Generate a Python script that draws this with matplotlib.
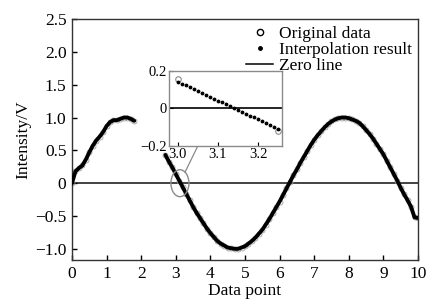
import numpy as np
import matplotlib
matplotlib.use("Agg")
import matplotlib.pyplot as plt
from matplotlib.lines import Line2D
from matplotlib.patches import Ellipse

plt.rcParams['font.family'] = ['Liberation Serif', 'DejaVu Serif']
plt.rcParams['font.size'] = 12.5

# first measured segment (x = 0.0 ... 1.8)
x1 = np.round(np.arange(0.0, 1.81, 0.1), 2)
y1 = [0.00, 0.18, 0.23, 0.27, 0.36, 0.47, 0.57, 0.65, 0.71, 0.78,
      0.87, 0.93, 0.96, 0.96, 0.98, 1.00, 1.00, 0.98, 0.95]

# second measured segment (x = 2.7 ... 10.0)
x2 = np.round(np.arange(2.7, 10.01, 0.1), 2)
y2 = [0.43, 0.33, 0.24, 0.14, 0.04, -0.06, -0.16, -0.26, -0.36, -0.45,
      -0.53, -0.61, -0.69, -0.76, -0.82, -0.88, -0.92, -0.95, -0.98, -0.99,
      -1.00, -1.00, -0.98, -0.96, -0.92, -0.88, -0.83, -0.77, -0.71, -0.63,
      -0.55, -0.46, -0.37, -0.28, -0.18, -0.08, 0.02, 0.12, 0.21, 0.31,
      0.40, 0.49, 0.58, 0.66, 0.73, 0.79, 0.85, 0.90, 0.94, 0.97,
      0.99, 1.00, 1.00, 0.99, 0.97, 0.95, 0.92, 0.87, 0.81, 0.75,
      0.68, 0.60, 0.52, 0.44, 0.34, 0.24, 0.14, 0.04, -0.07, -0.17,
      -0.26, -0.36, -0.52, -0.53]

# zoomed region around the zero crossing
zoom_orig_x = [3.00, 3.25]
zoom_orig_y = [0.155, -0.118]
zoom_interp_x = np.round(np.arange(3.00, 3.255, 0.01), 2)
zoom_interp_y = [0.143, 0.133, 0.123, 0.113, 0.103, 0.093, 0.083, 0.072, 0.062,
                 0.052, 0.042, 0.032, 0.022, 0.012, 0.002, -0.008, -0.018,
                 -0.028, -0.038, -0.048, -0.058, -0.068, -0.079, -0.089,
                 -0.099, -0.110]

yticks = [-1.0, -0.5, 0, 0.5, 1.0, 1.5, 2.0, 2.5]
ytick_labels = ['\u22121.0', '\u22120.5', '0', '0.5', '1.0', '1.5', '2.0', '2.5']

fig = plt.figure(figsize=(4.3, 3.02), dpi=100)
ax = fig.add_axes([0.1674, 0.139, 0.8046, 0.798])

grey = '#8a8a8a'
for xs, ys in [(x1, y1), (x2, y2)]:
    ax.plot(xs, ys, 'o', ms=3.6, mfc='none', mec='#a0a0a0', mew=0.6, zorder=2)
    ax.plot(xs, ys, '-', color='k', lw=2.8, zorder=3, solid_capstyle='round')
ax.axhline(0, color='#222222', lw=1.2, zorder=1)

ax.add_patch(Ellipse((3.12, 0.0), 0.52, 0.41, fill=False, ec=grey, lw=1.0, zorder=4))
ax.plot([3.27, 3.64], [0.17, 0.57], color=grey, lw=0.9, zorder=4)

ax.set_xlim(0, 10)
ax.set_ylim(-1.17, 2.5)
ax.set_xticks(range(11))
ax.set_yticks(yticks)
ax.set_yticklabels(ytick_labels)
ax.tick_params(direction='in', length=3.5, width=1, top=False, right=False, pad=4)
for s in ax.spines.values():
    s.set_color('#333333')
    s.set_linewidth(1.0)
ax.set_xlabel('Data point', labelpad=1)
ax.set_ylabel('Intensity/V', labelpad=3)

handles = [Line2D([], [], ls='none', marker='o', ms=4.5, mfc='none', mec='k', mew=1.0),
           Line2D([], [], ls='none', marker='.', ms=5, color='k'),
           Line2D([], [], color='k', lw=1.1)]
ax.legend(handles, ['Original data', 'Interpolation result', 'Zero line'],
          loc='upper right', bbox_to_anchor=(1.012, 1.015), frameon=False,
          handlelength=1.6, handletextpad=0.3, labelspacing=0.0,
          borderaxespad=0.2, fontsize=12.5)

# inset
ins = fig.add_axes([0.393, 0.5166, 0.263, 0.2484])
ins.axhline(0, color='k', lw=1.2, zorder=1)
ins.plot(zoom_interp_x, zoom_interp_y, '.', color='k', ms=3.5, zorder=3)
ins.plot(zoom_orig_x, zoom_orig_y, 'o', ms=4, mfc='none', mec=grey, mew=0.8, zorder=2)
ins.set_xlim(2.978, 3.26)
ins.set_ylim(-0.2, 0.2)
ins.set_xticks([3.0, 3.1, 3.2])
ins.set_xticklabels(['3.0', '3.1', '3.2'])
ins.set_yticks([-0.2, 0, 0.2])
ins.set_yticklabels(['\u22120.2', '0', '0.2'])
ins.tick_params(direction='in', length=3, width=0.8, labelsize=10.5, pad=1.5)
for s in ins.spines.values():
    s.set_color(grey)
    s.set_linewidth(1.0)

fig.savefig('out.png', dpi=100)
